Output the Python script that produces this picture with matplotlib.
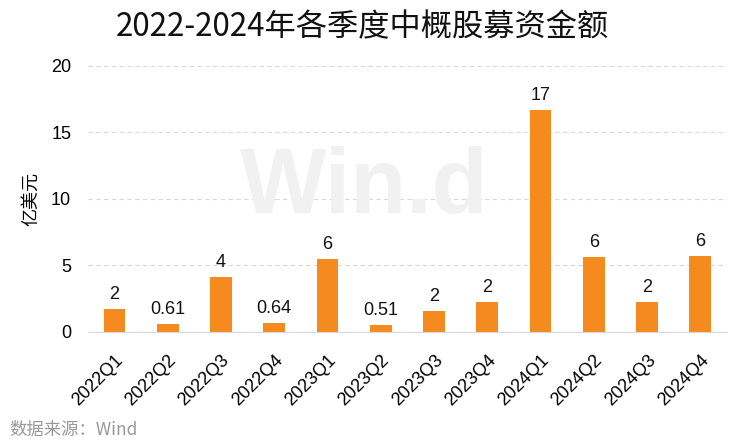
import matplotlib
matplotlib.use("Agg")
import matplotlib.pyplot as plt

categories = ["2022Q1", "2022Q2", "2022Q3", "2022Q4", "2023Q1", "2023Q2",
              "2023Q3", "2023Q4", "2024Q1", "2024Q2", "2024Q3", "2024Q4"]
values = [1.75, 0.61, 4.14, 0.64, 5.49, 0.51, 1.58, 2.26, 16.7, 5.64, 2.26, 5.71]
labels = ["2", "0.61", "4", "0.64", "6", "0.51", "2", "2", "17", "6", "2", "6"]
yticks = [0, 5, 10, 15, 20]

plt.rcParams['font.family'] = ['Liberation Sans', 'Noto Sans CJK SC', 'DejaVu Sans']

fig = plt.figure(figsize=(7.44, 4.48), dpi=100)
ax = fig.add_axes([0.118, 0.259, 0.859, 0.594])

# watermark
fig.text(0.49, 0.483, "Win.d", fontsize=66, fontweight='bold', color='#f1f1f1',
         ha='center', va='bottom', zorder=0, family=['Liberation Sans'])
ax.set_facecolor('none')

x = list(range(len(categories)))
ax.bar(x, values, width=0.41, color='#F58A1F', zorder=3)
for xi, v, lab in zip(x, values, labels):
    ax.text(xi, v + 0.45, lab, ha='center', va='bottom', fontsize=13, color='#111111')

ax.set_xlim(-0.5, len(categories) - 0.5)
ax.set_ylim(0, 20)
ax.set_yticks(yticks)
ax.set_yticklabels([str(t) for t in yticks], fontsize=13)
ax.set_xticks(x)
ax.set_xticklabels(categories, rotation=45, ha='right', rotation_mode='anchor', fontsize=13)
ax.tick_params(axis='y', length=0, pad=12)
ax.tick_params(axis='x', length=0, pad=14)
ax.yaxis.grid(True, linestyle=(0, (4, 3)), color='#d9d9d9', linewidth=0.8, zorder=0)
for s in ['top', 'right', 'left']:
    ax.spines[s].set_visible(False)
ax.spines['bottom'].set_color('#d9d9d9')
ax.spines['bottom'].set_zorder(4)
ax.set_ylabel("亿美元", fontsize=13, family=['Noto Sans CJK SC'], labelpad=8)

fig.text(0.487, 0.94, "2022-2024年各季度中概股募资金额", ha='center', va='center',
         fontsize=22.5, family=['Noto Sans CJK SC'], color='#111111')
fig.text(0.013, 0.04, "数据来源：Wind", ha='left', va='center', fontsize=12.5,
         color='#999999', family=['Noto Sans CJK SC', 'Liberation Sans'])

fig.savefig("out.png", dpi=100)
